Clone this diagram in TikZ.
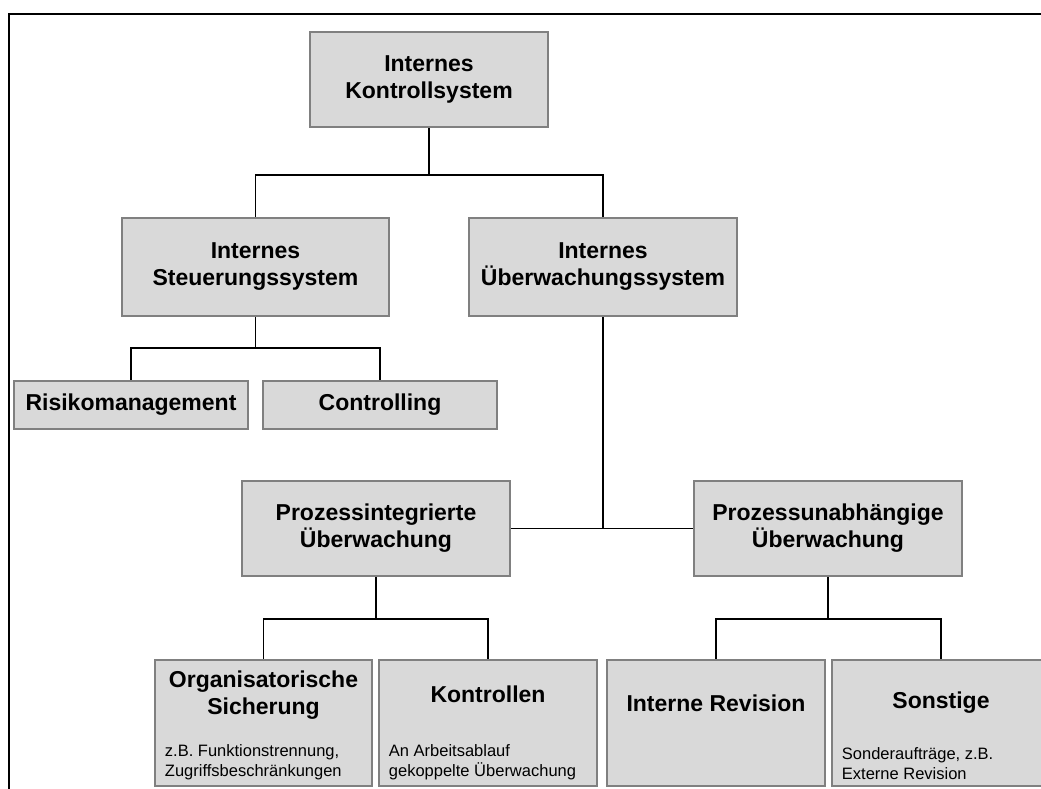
\documentclass[tikz,border=0pt]{standalone}
\usepackage{fontspec}
\setmainfont{Liberation Sans}
\usetikzlibrary{calc,positioning}
\definecolor{ink}{HTML}{000000}
\definecolor{cardfill}{HTML}{D9D9D9}
\definecolor{cardedge}{HTML}{808080}
\tikzset{
  box/.style={draw=cardedge,fill=cardfill,line width=2.5pt,inner sep=0pt,align=center,font=\fontsize{23}{27}\selectfont\bfseries,text=ink},
  title/.style={inner sep=0pt,align=center,font=\fontsize{23}{27}\selectfont\bfseries,text=ink},
  note/.style={inner sep=0pt,align=left,font=\fontsize{16.5}{20}\selectfont,text=ink},
  link/.style={line width=1.3pt,draw=ink},
  frame/.style={line width=2pt,draw=ink}
}
\begin{document}
\begin{tikzpicture}[x=1pt,y=-1pt]
  \path[use as bounding box] (0,0) rectangle (1041,789);
  \clip (0,0) rectangle (1041,789);
  % outer frame
  \draw[frame] (9,789) -- (9,14) -- (1041,14);
  % top
  \node[box,minimum width=238pt,minimum height=95pt] (iks) at (429,79.5) {Internes\\Kontrollsystem};
  % second level
  \node[box,minimum width=267pt,minimum height=98pt] (iss) at (255.5,267) {Internes\\Steuerungssystem};
  \node[box,minimum width=268pt,minimum height=98pt] (ius) at (603,267) {Internes\\Überwachungssystem};
  % steering
  \node[box,minimum width=234pt,minimum height=48pt] (risk) at (131,405) {Risikomanagement};
  \node[box,minimum width=234pt,minimum height=48pt] (ctrl) at (380,405) {Controlling};
  % monitoring
  \node[box,minimum width=268pt,minimum height=95pt] (pint) at (376,528.5) {Prozessintegrierte\\Überwachung};
  \node[box,minimum width=268pt,minimum height=95pt] (punab) at (828,528.5) {Prozessunabhängige\\Überwachung};
  % bottom row
  \node[box,minimum width=217pt,minimum height=126pt] (orgs) at (263.5,723) {};
  \node[box,minimum width=218pt,minimum height=126pt] (kont) at (488,723) {};
  \node[box,minimum width=218pt,minimum height=126pt] (irev) at (716,723) {};
  \node[box,minimum width=218pt,minimum height=126pt] (sonst) at (941,723) {};
  \node[title] (orgs-t) at ($(orgs.north)+(0,36)$) {Organisatorische\\Sicherung};
  \node[title] (kont-t) at ($(kont.north)+(0,36)$) {Kontrollen};
  \node[title] (irev-t) at ($(irev.north)+(0,45)$) {Interne Revision};
  \node[title] (sonst-t) at ($(sonst.north)+(0,44)$) {Sonstige};
  \node[note,anchor=south west] (orgs-n) at ($(orgs.south west)+(11,-7)$) {z.B. Funktionstrennung,\\Zugriffsbeschränkungen};
  \node[note,anchor=south west] (kont-n) at ($(kont.south west)+(11,-7)$) {An Arbeitsablauf\\gekoppelte Überwachung};
  \node[note,anchor=south west] (sonst-n) at ($(sonst.south west)+(11,-7)$) {Sonderaufträge, z.B.\\Externe Revision};
  % connectors
  \coordinate (j1) at (429,175);
  \draw[link] (iks) -- (j1);
  \draw[link] (iss.north) |- (j1) -| (ius.north);
  \coordinate (j2) at (255.5,348);
  \draw[link] (iss) -- (j2);
  \draw[link] (risk.north) |- (j2) -| (ctrl.north);
  \draw[link] (pint.east) -- (punab.west);
  \draw[link] (ius) -- (ius |- pint.east);
  \coordinate (j3) at (376,619);
  \draw[link] (pint) -- (j3);
  \draw[link] (orgs.north) |- (j3) -| (kont.north);
  \coordinate (j4) at (828,619);
  \draw[link] (punab) -- (j4);
  \draw[link] (irev.north) |- (j4) -| (sonst.north);
\end{tikzpicture}
\end{document}
